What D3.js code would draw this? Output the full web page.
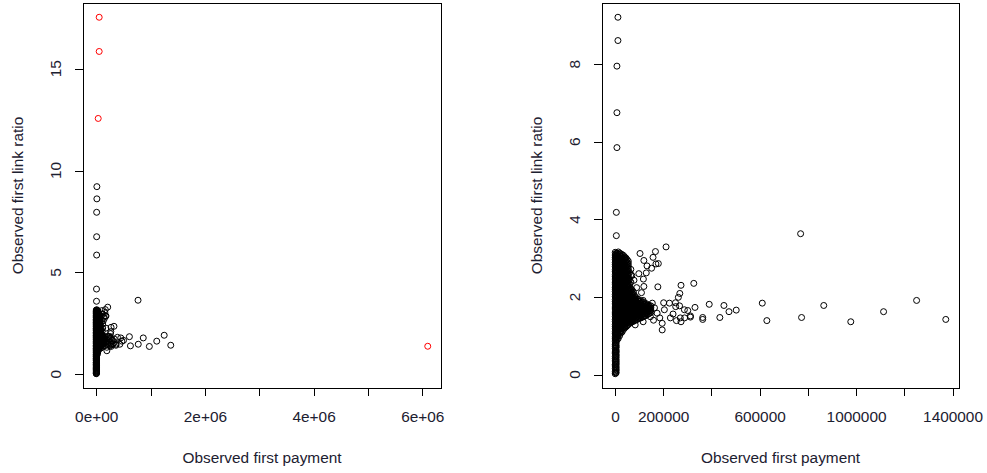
<!DOCTYPE html>
<html>
<head>
<meta charset="utf-8">
<script src="https://cdn.jsdelivr.net/npm/d3@7"></script>
<style>
  html, body { margin: 0; padding: 0; background: #fff; }
  svg { display: block; }
  text { font-family: "Liberation Sans", Arial, sans-serif; font-size: 15.4px; fill: #1c2030; }
</style>
</head>
<body>
<script>
// Observed first payment vs observed first link ratio.
// Dense core of claims, grouped by payment value.
const corePayments = [1200, 3200, 5300, 9400, 13800, 19300, 24600, 29800, 35200, 40500, 45900, 50700, 55400, 60700,
  66000, 71200, 76500, 81700, 87000, 92100, 97200, 102300, 107500, 112700, 118000, 123100, 128300, 133400, 138600, 143700, 148900];
const coreRatios = [
  [0.02,0.07,0.16,0.22,0.26,0.35,0.41,0.46,0.55,0.58,0.67,0.73,0.78,0.86,0.92,0.97,1.05,1.10,1.18,1.24,1.29,1.37,1.42,1.50,1.56,1.61,1.69,1.74,1.82,1.88,1.93,2.01,2.06,2.14,2.20,2.25,2.33,2.38,2.46,2.52,2.57,2.65,2.70,2.78,2.84,2.89,2.97,3.02,3.08,3.15],
  [0.04,0.10,0.14,0.20,0.28,0.33,0.39,0.48,0.52,0.60,0.64,0.69,0.76,0.81,0.88,0.95,1.02,1.08,1.15,1.21,1.26,1.34,1.40,1.47,1.53,1.58,1.66,1.72,1.79,1.85,1.90,1.98,2.04,2.11,2.17,2.23,2.30,2.36,2.43,2.49,2.54,2.62,2.68,2.75,2.81,2.86,2.94,3.00,3.05,3.11],
  [0.05,0.12,0.18,0.25,0.31,0.37,0.44,0.50,0.57,0.62,0.70,0.75,0.82,0.89,0.94,1.01,1.07,1.14,1.20,1.27,1.33,1.39,1.46,1.52,1.59,1.65,1.71,1.78,1.84,1.91,1.97,2.03,2.10,2.16,2.23,2.29,2.35,2.42,2.48,2.55,2.61,2.67,2.74,2.80,2.87,2.93,2.99,3.06,3.12],
  [0.90,0.97,1.03,1.09,1.16,1.22,1.29,1.35,1.41,1.48,1.54,1.60,1.67,1.73,1.80,1.86,1.92,1.99,2.05,2.11,2.18,2.24,2.31,2.37,2.43,2.50,2.56,2.63,2.69,2.75,2.82,2.88,2.95,3.01,3.07,3.13],
  [0.93,1.01,1.06,1.13,1.19,1.26,1.31,1.38,1.45,1.50,1.57,1.63,1.70,1.76,1.82,1.89,1.95,2.02,2.08,2.14,2.21,2.27,2.34,2.40,2.46,2.53,2.59,2.66,2.72,2.78,2.85,2.91,2.98,3.04,3.10,3.16],
  [1.00,1.09,1.16,1.23,1.28,1.35,1.42,1.47,1.54,1.61,1.66,1.73,1.80,1.85,1.92,1.98,2.05,2.12,2.17,2.24,2.31,2.36,2.43,2.50,2.55,2.62,2.69,2.75,2.81,2.88,2.94,3.01,3.08,3.13],
  [1.07,1.12,1.20,1.25,1.32,1.39,1.44,1.51,1.58,1.63,1.69,1.77,1.83,1.88,1.96,2.01,2.09,2.15,2.20,2.28,2.33,2.41,2.47,2.52,2.60,2.65,2.73,2.79,2.84,2.92,2.97,3.05,3.11],
  [1.10,1.18,1.24,1.31,1.37,1.44,1.50,1.56,1.63,1.70,1.75,1.82,1.89,1.95,2.01,2.08,2.14,2.21,2.27,2.34,2.40,2.46,2.53,2.59,2.66,2.72,2.78,2.85,2.91,2.98,3.04,3.09],
  [1.16,1.22,1.29,1.35,1.42,1.48,1.54,1.61,1.67,1.73,1.80,1.86,1.93,1.99,2.05,2.12,2.18,2.25,2.31,2.37,2.44,2.50,2.56,2.63,2.69,2.76,2.82,2.88,2.95,3.01,3.07],
  [1.20,1.26,1.32,1.39,1.45,1.51,1.58,1.64,1.70,1.77,1.83,1.89,1.96,2.02,2.08,2.15,2.21,2.27,2.34,2.40,2.47,2.53,2.59,2.66,2.72,2.79,2.85,2.91,2.98,3.03],
  [1.23,1.30,1.36,1.41,1.49,1.55,1.60,1.68,1.72,1.79,1.85,1.92,1.98,2.04,2.11,2.17,2.24,2.30,2.36,2.43,2.49,2.55,2.62,2.68,2.75,2.81,2.87,2.94,3.00],
  [1.26,1.33,1.38,1.44,1.51,1.57,1.63,1.70,1.75,1.81,1.88,1.94,2.00,2.07,2.13,2.19,2.26,2.32,2.39,2.45,2.51,2.58,2.64,2.70,2.77,2.83,2.89,2.96],
  [1.29,1.34,1.40,1.47,1.53,1.59,1.66,1.71,1.78,1.84,1.90,1.97,2.03,2.09,2.16,2.22,2.29,2.35,2.41,2.48,2.54,2.60,2.67,2.73,2.80,2.86,2.92],
  [1.32,1.37,1.43,1.50,1.56,1.62,1.68,1.74,1.81,1.87,1.93,2.00,2.06,2.12,2.19,2.25,2.32,2.45,2.63],
  [1.34,1.40,1.45,1.52,1.58,1.64,1.71,1.77,1.83,1.90,1.96,2.02,2.09,2.15,2.21,2.38,2.57,2.71],
  [1.36,1.42,1.48,1.55,1.61,1.67,1.73,1.80,1.86,1.92,1.99,2.05,2.11,2.18],
  [1.37,1.43,1.50,1.56,1.62,1.69,1.75,1.81,1.88,1.94,2.00,2.07,2.13],
  [1.39,1.45,1.52,1.58,1.64,1.71,1.77,1.83,1.90,1.96,2.03],
  [1.41,1.47,1.54,1.60,1.66,1.73,1.79,1.85,1.92,1.98],
  [1.42,1.48,1.55,1.61,1.67,1.74,1.80,1.86,1.93],
  [1.44,1.50,1.57,1.63,1.69,1.76,1.82,1.89,1.94],
  [1.45,1.51,1.58,1.64,1.70,1.77,1.83,1.88],
  [1.46,1.52,1.59,1.65,1.72,1.78,1.84,1.90],
  [1.48,1.54,1.60,1.67,1.73,1.79,1.85],
  [1.49,1.56,1.62,1.68,1.75,1.81,1.87],
  [1.51,1.57,1.63,1.70,1.76,1.82],
  [1.52,1.58,1.65,1.71,1.77,1.83],
  [1.54,1.60,1.66,1.72,1.78],
  [1.56,1.62,1.68,1.74,1.80],
  [1.58,1.64,1.70,1.76],
  [1.60,1.66,1.72,1.77]
];

// Scattered claims outside the core.
const tailPayments = [12400, 12400, 8300, 8300, 8300, 5800, 5800,
  770000, 611000, 630000, 774000, 866000, 978000, 1114000, 1251000, 1372000,
  327000, 332000, 313000, 364000, 364000, 391000, 435000, 452000, 473000, 503000,
  212000, 104000, 168000, 120000, 158000, 170000, 180000, 133000, 152000, 99000,
  130000, 118000, 79000, 120000, 110000, 178000, 274000, 269000, 263000, 202000,
  226000, 251000, 268000, 288000, 302000, 205000, 230000, 241000, 255000, 271000,
  289000, 186000, 196000, 196000, 117000, 155000, 164000, 175000, 147000, 117000,
  90000, 70000, 252000, 274000, 313000, 160000, 84000];
const tailRatios = [9.21, 8.61, 7.95, 6.75, 5.85, 4.18, 3.58,
  3.63, 1.84, 1.39, 1.47, 1.78, 1.36, 1.62, 1.91, 1.42,
  2.35, 1.73, 1.51, 1.47, 1.42, 1.81, 1.47, 1.78, 1.62, 1.66,
  3.29, 3.12, 3.17, 2.94, 3.02, 2.85, 2.86, 2.80, 2.74, 2.60,
  2.62, 2.46, 2.43, 2.27, 2.11, 2.26, 2.30, 2.09, 1.99, 1.85,
  1.84, 1.85, 1.77, 1.67, 1.65, 1.67, 1.46, 1.56, 1.39, 1.46,
  1.46, 1.46, 1.32, 1.15, 1.91, 1.84, 1.72, 1.58, 1.49, 1.36,
  2.24, 2.55, 1.75, 1.36, 1.48, 1.40, 1.28];

// Extreme claims, shown only in the full-range panel.
const outlierPayments = [55000, 55000, 37000, 6100000];
const outlierRatios = [17.53, 15.85, 12.56, 1.37];

// Axis ticks and their printed labels (blank = tick without label).
const leftXTicks = [0, 1e6, 2e6, 3e6, 4e6, 5e6, 6e6];
const leftXLabels = ["0e+00", "", "2e+06", "", "4e+06", "", "6e+06"];
const leftYTicks = [0, 5, 10, 15];
const rightXTicks = [0, 200000, 400000, 600000, 800000, 1000000, 1200000, 1400000];
const rightXLabels = ["0", "200000", "", "600000", "", "1000000", "", "1400000"];
const rightYTicks = [0, 2, 4, 6, 8];

const xTitle = "Observed first payment";
const yTitle = "Observed first link ratio";

const W = 987, H = 473;
const svg = d3.select("body").append("svg").attr("width", W).attr("height", H);
svg.append("rect").attr("width", W).attr("height", H).attr("fill", "#fff");

const core = [];
corePayments.forEach((p, i) => coreRatios[i].forEach(r => core.push({ p, r })));
const tail = tailPayments.map((p, i) => ({ p, r: tailRatios[i] }));
const outliers = outlierPayments.map((p, i) => ({ p, r: outlierRatios[i], out: true }));

// Base-R style domain: data range widened by 4% on each side.
function padded(vals) {
  const [lo, hi] = d3.extent(vals);
  const d = (hi - lo) * 0.04;
  return [lo - d, hi + d];
}

function panel(box, pts, xTicks, xLabels, yTicks) {
  const g = svg.append("g");
  const x = d3.scaleLinear().domain(padded(pts.map(d => d.p))).range([box.x0, box.x1]);
  const y = d3.scaleLinear().domain(padded(pts.map(d => d.r))).range([box.y1, box.y0]);

  // points
  g.append("g").selectAll("circle").data(pts).join("circle")
    .attr("cx", d => x(d.p)).attr("cy", d => y(d.r)).attr("r", 3)
    .attr("fill", "none").attr("stroke", d => d.out ? "#ff0000" : "#000")
    .attr("stroke-width", 1);

  // x axis
  const xa = g.append("g").attr("transform", `translate(0,${box.y1})`)
    .call(d3.axisBottom(x).tickValues(xTicks).tickFormat((d, i) => xLabels[i])
      .tickSize(8).tickSizeOuter(0).tickPadding(15.5));
  xa.select(".domain").remove();
  xa.selectAll("line").attr("stroke", "#000").attr("shape-rendering", "crispEdges");
  xa.selectAll("text").attr("font-size", null).attr("font-family", null).attr("fill", null);

  // y axis
  const ya = g.append("g").attr("transform", `translate(${box.x0},0)`)
    .call(d3.axisLeft(y).tickValues(yTicks).tickFormat("").tickSize(8).tickSizeOuter(0));
  ya.select(".domain").remove();
  ya.selectAll("line").attr("stroke", "#000").attr("shape-rendering", "crispEdges");
  g.append("g").selectAll("text").data(yTicks).join("text")
    .attr("transform", d => `translate(${box.x0 - 28},${y(d)}) rotate(-90)`)
    .attr("text-anchor", "middle").attr("dy", "0.36em").text(d => d);

  // frame
  g.append("rect").attr("x", box.x0).attr("y", box.y0)
    .attr("width", box.x1 - box.x0).attr("height", box.y1 - box.y0)
    .attr("fill", "none").attr("stroke", "#000").attr("stroke-width", 1)
    .attr("shape-rendering", "crispEdges");

  // titles
  g.append("text").attr("x", (box.x0 + box.x1) / 2).attr("y", 457)
    .attr("text-anchor", "middle").attr("dy", "0.36em").text(xTitle);
  g.append("text")
    .attr("transform", `translate(${box.x0 - 66},${(box.y0 + box.y1) / 2}) rotate(-90)`)
    .attr("text-anchor", "middle").attr("dy", "0.36em").text(yTitle);
}

panel({ x0: 83, x1: 441, y0: 3, y1: 388 }, core.concat(tail, outliers), leftXTicks, leftXLabels, leftYTicks);
panel({ x0: 602, x1: 959, y0: 3, y1: 388 }, core.concat(tail), rightXTicks, rightXLabels, rightYTicks);
</script>
</body>
</html>
